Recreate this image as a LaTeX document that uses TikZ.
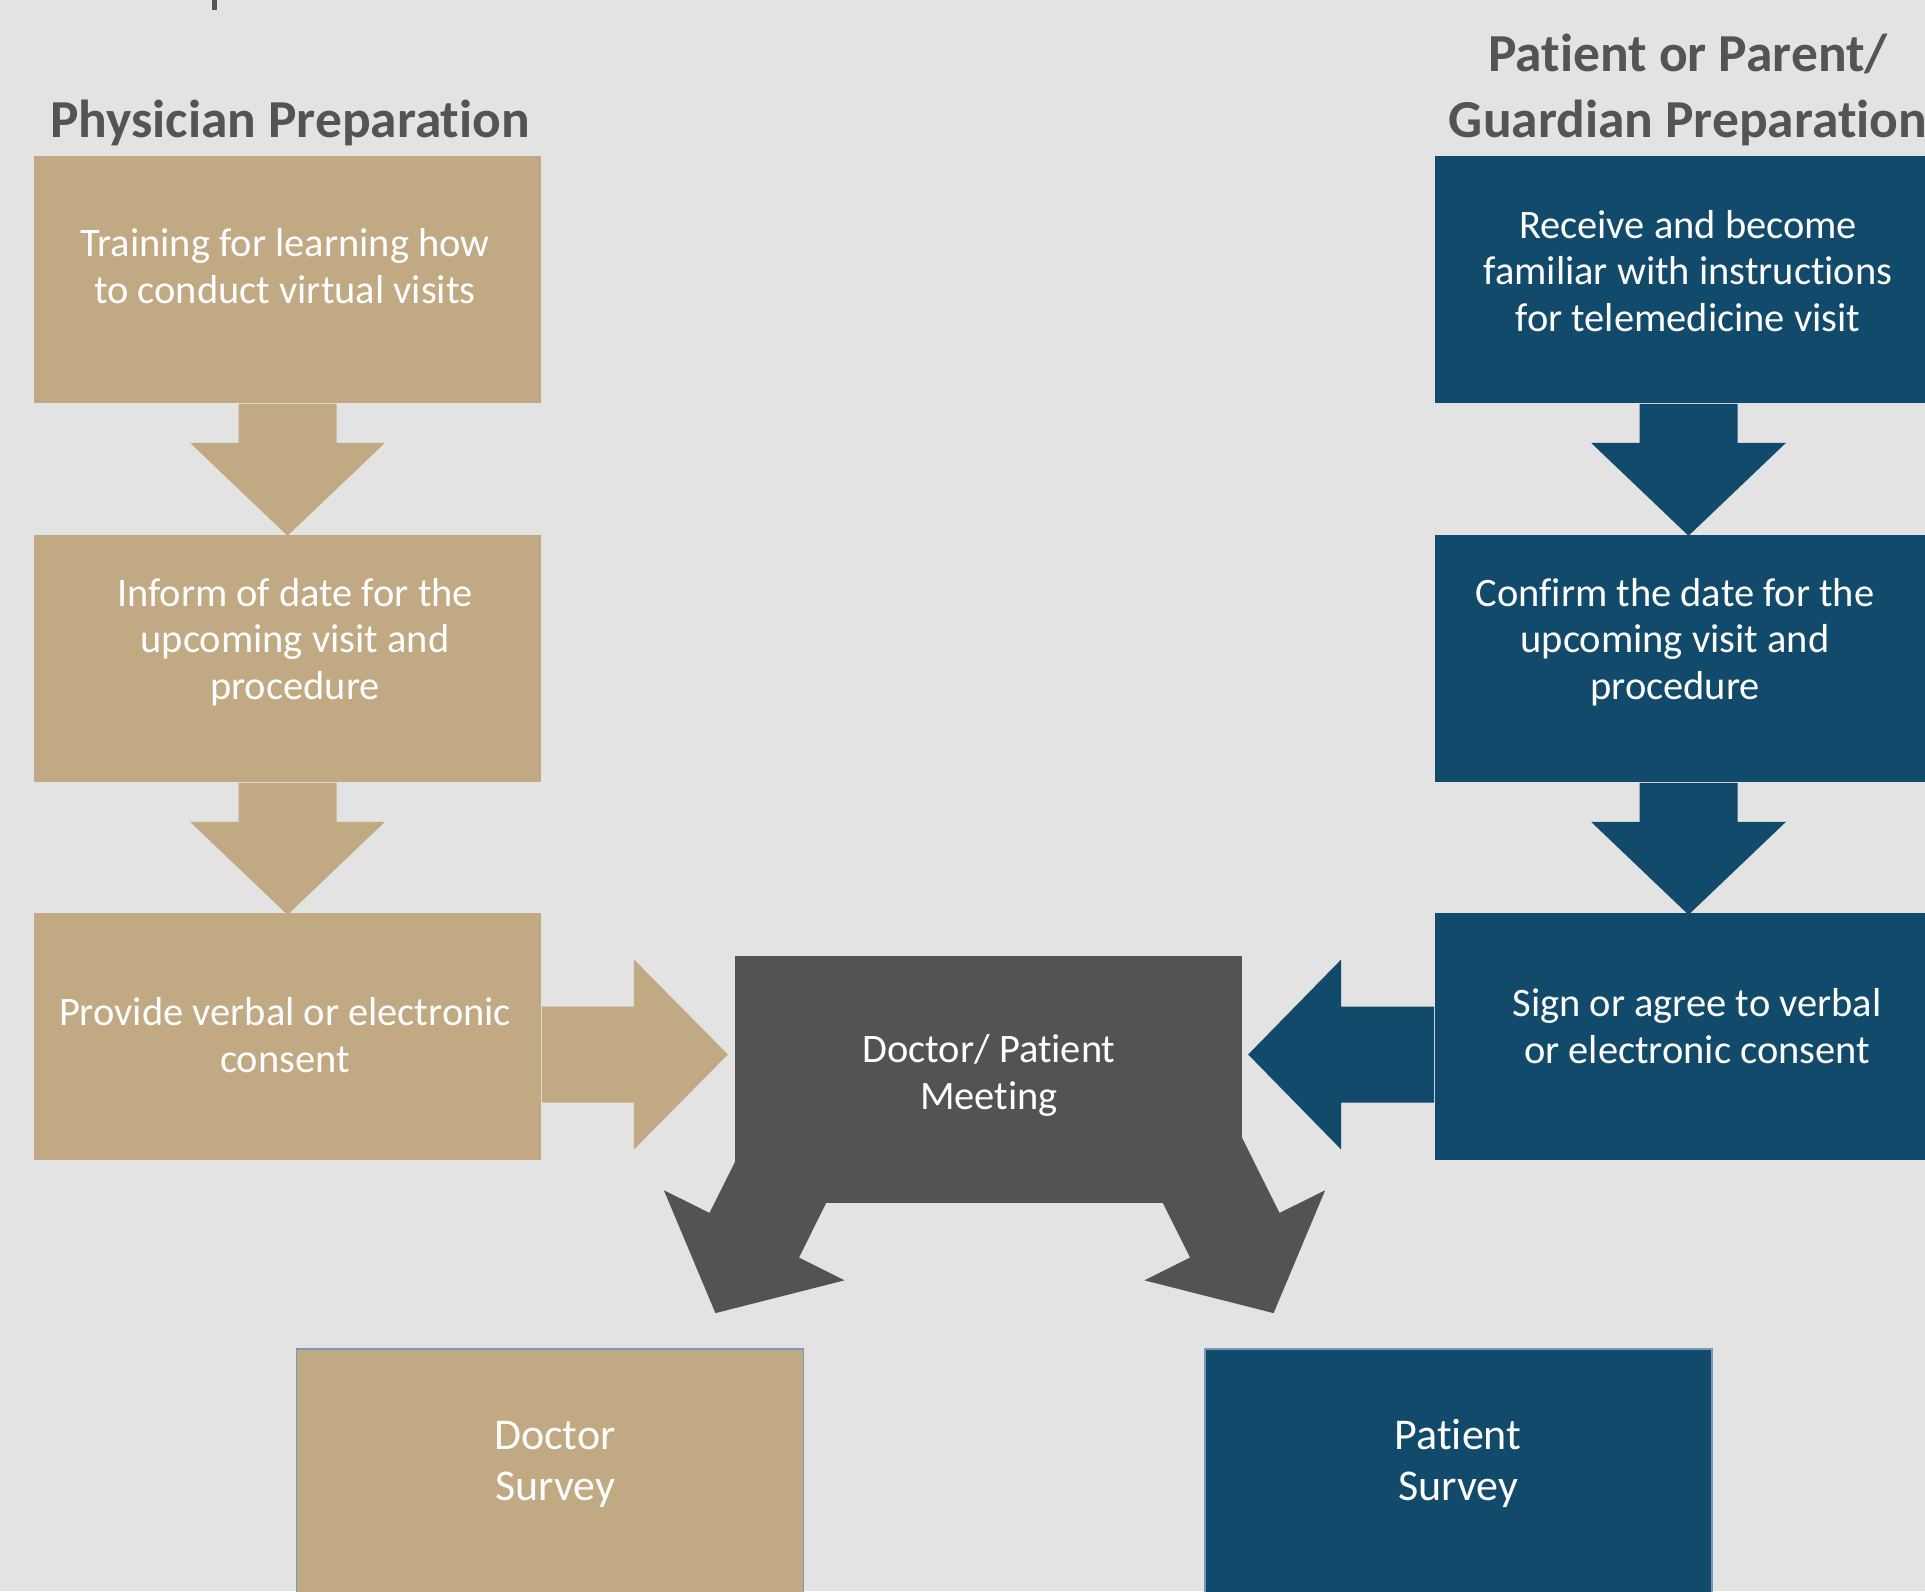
\documentclass[tikz,border=0pt]{standalone}
\usepackage{fontspec}
\setmainfont{Carlito}[Ligatures=NoCommon]
\usetikzlibrary{calc}

\definecolor{bgc}{HTML}{E3E3E3}
\definecolor{tanc}{HTML}{C0A983}
\definecolor{bluec}{HTML}{124A6B}
\definecolor{darkc}{HTML}{525453}
\definecolor{headc}{HTML}{545454}
\definecolor{edgec}{HTML}{7B97B8}

% block arrow: start, angle, colour, length, shaft length, shaft half width, head half width
\newcommand{\blockarr}[7]{%
\fill[#3,shift={#1},rotate=#2] (0,-#6) -- (#5,-#6) -- (#5,-#7) -- (#4,0) -- (#5,#7) -- (#5,#6) -- (0,#6) -- cycle;}

\begin{document}
\begin{tikzpicture}[x=0.01cm,y=-0.01cm]
\tikzstyle{box}=[rectangle,inner sep=0pt,minimum width=5.07cm,minimum height=2.47cm]
\tikzstyle{boxtext}=[text=white,align=center,anchor=base,inner sep=0pt,font=\fontsize{11.5}{13.2}\selectfont]
\tikzstyle{survtext}=[text=white,align=center,anchor=base,inner sep=0pt,font=\fontsize{12.5}{14.5}\selectfont]
\tikzstyle{head}=[text=headc,align=center,anchor=base,inner sep=0pt,font=\fontsize{15.2}{18.5}\selectfont\bfseries]

\fill[bgc] (0,0) rectangle (1925,1591);
\useasboundingbox (0,0) rectangle (1925,1591);
\fill[headc] (212,0) rectangle (217,10);

% last line baselines
\node[head] (phead) at (290,137) {Physician Preparation};
\node[head] (ghead) at (1688,137) {Patient or Parent/\\Guardian Preparation};

\node[box,fill=tanc] (t1) at (287.5,279.5) {};
\node[box,fill=tanc] (t2) at (287.5,658.5) {};
\node[box,fill=tanc] (t3) at (287.5,1036.5) {};
\node[box,fill=bluec] (p1) at (1688.5,279.5) {};
\node[box,fill=bluec] (p2) at (1688.5,658.5) {};
\node[box,fill=bluec] (p3) at (1688.5,1036.5) {};
\node[box,fill=darkc] (meet) at (988.5,1079.5) {};
\node[box,fill=tanc,draw=edgec,line width=0.4pt] (dsurv) at (550,1472.5) {};
\node[box,fill=bluec,draw=edgec,line width=0.4pt] (psurv) at (1458.5,1472.5) {};

\foreach \a in {t1,t2}
\blockarr{(\a.south)}{-90}{tanc}{132}{39}{49}{97.5};
\foreach \a in {p1,p2}
\blockarr{(\a.south)}{-90}{bluec}{132}{39}{49}{97.5};

\blockarr{($(t3.east)+(0,18)$)}{0}{tanc}{186}{92}{48}{95}
\blockarr{($(p3.west)+(0,18)$)}{180}{bluec}{186}{93}{48}{95}
\blockarr{($(meet.center)+(-195,77)$)}{-116.5}{darkc}{175}{88}{50}{101}
\blockarr{($(meet.center)+(207,77)$)}{-63.5}{darkc}{175}{88}{50}{101}

\node[boxtext] (t1txt) at (285,303) {Training for learning how\\to conduct virtual visits};
\node[boxtext] (t2txt) at (295,699) {Inform of date for the\\upcoming visit and\\procedure};
\node[boxtext] (t3txt) at (285,1072) {Provide verbal or electronic\\consent};
\node[boxtext] (p1txt) at (1688,331) {Receive and become\\familiar with instructions\\for telemedicine visit};
\node[boxtext] (p2txt) at (1675,699) {Confirm the date for the\\upcoming visit and\\procedure};
\node[boxtext] (p3txt) at (1697,1063) {Sign or agree to verbal\\or electronic consent};
\node[boxtext] (mtxt) at (989,1109) {Doctor/ Patient\\Meeting};
\node[survtext] (dtxt) at (555,1500) {Doctor\\Survey};
\node[survtext] (ptxt) at (1458,1500) {Patient\\Survey};

\end{tikzpicture}
\end{document}
